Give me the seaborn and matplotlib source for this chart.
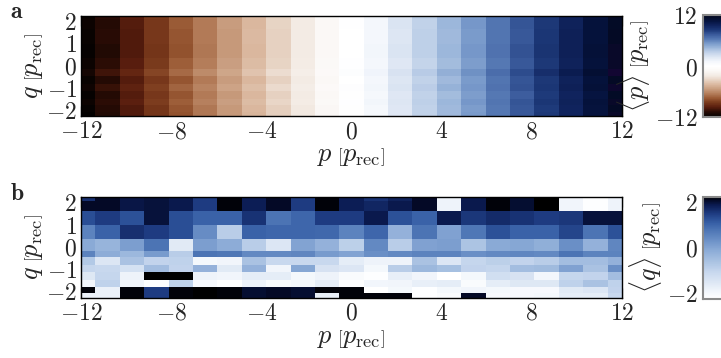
import numpy as np
import matplotlib
matplotlib.use("Agg")
import matplotlib.pyplot as plt
from matplotlib.colors import LinearSegmentedColormap, Normalize
from matplotlib.ticker import FuncFormatter
import seaborn as sns

# ---- grid: cell edges in momentum p and quadrature q (units of p_rec) ----
p_edges = [-12.44, -11.36, -10.28, -9.20, -8.11, -7.03, -5.95, -4.87, -3.79,
           -2.70, -1.62, -0.54, 0.54, 1.62, 2.70, 3.79, 4.87, 5.95, 7.03,
           8.11, 9.20, 10.28, 11.36, 12.44]
q_edges = [-2.27, -2.07, -1.78, -1.48, -1.13, -0.81, -0.46, -0.17, 0.34,
           0.98, 1.62, 2.07, 2.24]

# ---- panel a: mean momentum <p>, rows listed from top (q high) to bottom ----
mean_p_rows = [
    [-11.7, -10.7, -9.6, -8.5, -7.5, -6.4, -5.4, -4.3, -3.2, -2.1, -1.0, 0.1, 1.2, 2.2, 3.3, 4.3, 5.4, 6.5, 7.5, 8.6, 9.7, 10.7, 11.7],
    [-11.6, -10.8, -9.7, -8.6, -7.5, -6.5, -5.4, -4.4, -3.2, -2.2, -1.1, 0.1, 1.1, 2.3, 3.2, 4.4, 5.5, 6.5, 7.6, 8.6, 9.7, 10.8, 11.6],
    [-11.7, -10.7, -9.8, -8.6, -7.6, -6.5, -5.5, -4.3, -3.3, -2.2, -1.1, 0.0, 1.1, 2.2, 3.3, 4.3, 5.4, 6.5, 7.5, 8.7, 9.8, 10.8, 11.7],
    [-11.8, -10.9, -9.8, -8.7, -7.7, -6.6, -5.5, -4.4, -3.3, -2.2, -1.1, 0.0, 1.2, 2.3, 3.3, 4.4, 5.5, 6.6, 7.7, 8.8, 9.8, 10.9, 11.8],
    [-11.6, -10.6, -9.6, -8.5, -7.4, -6.4, -5.3, -4.2, -3.2, -2.1, -1.0, 0.1, 1.1, 2.1, 3.1, 4.2, 5.3, 6.4, 7.5, 8.6, 9.7, 10.8, 11.8],
    [-11.3, -10.2, -9.2, -8.1, -7.0, -6.0, -5.0, -3.9, -2.9, -1.9, -0.9, 0.3, 1.3, 2.4, 3.5, 4.6, 5.7, 6.8, 7.9, 9.0, 10.1, 11.1, 12.0],
    [-11.7, -10.8, -9.7, -8.6, -7.6, -6.5, -5.4, -4.4, -3.3, -2.2, -1.1, 0.0, 1.1, 2.2, 3.2, 4.3, 5.4, 6.5, 7.6, 8.6, 9.7, 10.8, 11.7],
    [-11.5, -10.4, -9.4, -8.3, -7.2, -6.2, -5.1, -4.1, -3.0, -2.0, -0.9, 0.2, 1.2, 2.3, 3.4, 4.5, 5.5, 6.6, 7.7, 8.7, 9.8, 10.9, 11.9],
    [-11.8, -10.8, -9.7, -8.6, -7.6, -6.5, -5.5, -4.4, -3.3, -2.2, -1.1, -0.1, 1.0, 2.1, 3.2, 4.2, 5.3, 6.4, 7.4, 8.5, 9.6, 10.6, 11.6],
    [-11.6, -10.6, -9.5, -8.4, -7.4, -6.3, -5.3, -4.2, -3.1, -2.1, -1.0, 0.1, 1.2, 2.2, 3.3, 4.4, 5.5, 6.5, 7.6, 8.7, 9.7, 10.8, 11.8],
    [-11.8, -10.8, -9.8, -8.7, -7.6, -6.6, -5.5, -4.4, -3.4, -2.3, -1.2, -0.1, 1.0, 2.1, 3.2, 4.3, 5.3, 6.4, 7.5, 8.5, 9.6, 10.7, 11.7],
    [-11.9, -10.9, -9.8, -8.7, -7.7, -6.6, -5.5, -4.5, -3.4, -2.3, -1.2, -0.1, 1.0, 2.1, 3.2, 4.3, 5.4, 6.4, 7.5, 8.6, 9.6, 10.7, 11.8],
]

# ---- panel b: mean quadrature <q>, rows listed from top to bottom ----
mean_q_rows = [
    [1.65, 2.1, 1.95, 2.0, 1.9, 1.5, 2.2, 1.85, 2.1, 1.5, 2.2, 1.85, 1.6, 1.8, 2.1, -1.85, 1.9, 2.2, 2.05, 2.25, -1.9, -2.2, -1.85],
    [2.1, 2.1, 1.95, 2.0, 1.9, 1.5, 2.2, 1.85, 2.1, 1.5, 2.2, 1.85, 1.75, 1.9, 2.1, -1.85, 1.9, 2.2, 2.05, 2.25, -1.9, -2.2, -1.85],
    [1.3, 1.5, 1.25, 2.0, 1.3, 1.05, 1.05, 1.6, 0.8, 1.0, 1.5, 1.5, 1.9, 1.25, 1.05, 1.9, 1.55, 1.7, 1.6, 1.5, 1.55, 2.0, 2.0],
    [0.55, 1.05, 1.65, 1.5, 1.3, 0.4, -0.85, 1.05, 1.0, 1.0, 0.95, 0.55, 1.0, -0.25, 0.8, 0.05, 0.75, 1.25, 1.05, 1.05, 1.4, 0.8, 1.25],
    [-0.1, -0.3, 0.1, 0.8, -1.6, 0.1, -0.15, -0.85, -1.5, 0.0, -0.25, -0.9, 0.45, -0.85, 0.05, 0.1, -0.65, -0.1, -0.05, -0.2, 0.35, -0.25, 0.5],
    [0.55, -0.15, -0.4, 0.15, -0.85, 0.8, 0.75, 0.45, 0.45, 0.5, 0.15, 0.0, 0.35, 0.45, 0.55, 0.55, 0.35, 0.45, 0.5, 0.45, 0.8, 0.55, 0.55],
    [-0.75, -1.5, -0.6, -1.0, -0.95, -2.0, -1.9, -0.6, -1.1, -1.1, -1.1, -1.7, -1.85, -1.85, -0.6, -1.5, -1.05, -0.9, -1.0, -0.85, -0.5, -0.5, -0.25],
    [-1.05, -1.1, -1.35, -0.5, -1.0, -0.25, -1.6, -0.25, -1.9, -0.05, -1.4, -1.5, -2.0, -0.85, -0.4, -0.55, -1.0, -1.05, -0.5, -0.45, 0.05, -0.6, 0.35],
    [-1.55, -1.05, -1.85, 2.25, 2.25, -1.85, -1.9, -1.7, -1.7, -2.0, -1.85, -2.1, -2.2, -1.75, -1.9, -2.25, -2.0, -1.3, -1.4, -1.95, -1.05, -1.0, -0.5],
    [-1.95, -0.95, -1.9, -2.2, -0.95, -2.05, -2.25, -1.85, -2.1, -2.0, -1.7, -2.2, -1.95, -1.9, -1.75, -1.7, -2.1, -1.7, -1.55, -1.55, -0.95, -0.6, -0.95],
    [2.2, -1.8, 2.2, 1.5, 2.2, 2.25, 2.2, 2.05, 2.1, 2.05, 2.2, 2.2, -2.25, -2.0, -2.2, -2.0, -1.9, -2.0, -2.05, -2.05, -1.6, -1.5, -1.0],
    [-1.8, -1.8, 2.2, 1.5, 2.2, 2.25, 2.2, 2.05, 2.1, 2.05, -1.75, 2.2, 2.2, 2.2, -2.2, -2.1, 2.1, -2.05, -2.05, -2.0, -1.7, -1.7, -1.1],
]

x_ticks = [-12, -8, -4, 0, 4, 8, 12]
y_ticks = [-2, -1, 0, 1, 2]
cbar_a_ticks = [-12, 0, 12]
cbar_b_ticks = [-2, 0, 2]

# ---- colour maps ----
p_lim = 12.0
p_stops = [(-12, "#000000"), (-10.7, "#2a0c05"), (-9.6, "#5a1e0e"), (-8.5, "#7a3a1c"),
           (-7.5, "#9a5a35"), (-6.4, "#b57f5c"), (-5.4, "#c89c7e"), (-4.3, "#dbb9a0"),
           (-3.2, "#e8d5c6"), (-2.2, "#f3ebe4"), (-1.1, "#fbf8f6"), (0.0, "#ffffff"),
           (1.1, "#f4f7fc"), (2.2, "#dde6f3"), (3.2, "#c3d3ea"), (4.3, "#9fb9dc"),
           (5.4, "#7a9bcb"), (6.4, "#5679b4"), (7.5, "#3a5a9c"), (8.5, "#1e3a7a"),
           (9.6, "#10245e"), (10.6, "#061542"), (11.7, "#030a24"), (12, "#120632")]
cmap_p = LinearSegmentedColormap.from_list(
    "brown_blue", [((v + p_lim) / (2 * p_lim), c) for v, c in p_stops])

q_lim = 2.25
q_stops = [(-2.25, "#ffffff"), (-1.9, "#f0f5fb"), (-1.6, "#e0e9f5"), (-1.1, "#c8d8ee"),
           (-0.6, "#a9c2e2"), (-0.1, "#8aaad6"), (0.35, "#6a8fc6"), (0.8, "#4c74b4"),
           (1.05, "#3a62a8"), (1.25, "#2d5299"), (1.5, "#1e3c82"), (1.9, "#0a1a50"),
           (2.1, "#040a28"), (2.25, "#000000")]
cmap_q = LinearSegmentedColormap.from_list(
    "white_navy", [((v + q_lim) / (2 * q_lim), c) for v, c in q_stops])

# ---- style ----
sns.set_theme(style="ticks")
plt.rcParams.update({
    "font.family": ["DejaVu Serif"],
    "mathtext.fontset": "cm",
    "font.size": 17,
    "axes.linewidth": 1.0,
    "axes.edgecolor": "black",
})

fmt = FuncFormatter(lambda v, _: f"${v:g}$")
GREY = "#8a8a8a"
TICK_FS = 17
LABEL_FS = 19

fig = plt.figure(figsize=(7.21, 3.58), dpi=100)
W, H = 721, 358


def box(x0, y0, x1, y1):
    return [x0 / W, 1 - y1 / H, (x1 - x0) / W, (y1 - y0) / H]


panels = [
    ("a", mean_p_rows, cmap_p, Normalize(-p_lim, p_lim), cbar_a_ticks,
     r"$\langle p\rangle\;\left[p_\mathrm{rec}\right]$", 15.7, 116.3),
    ("b", mean_q_rows, cmap_q, Normalize(-q_lim, q_lim), cbar_b_ticks,
     r"$\langle q\rangle\;\left[p_\mathrm{rec}\right]$", 197.3, 297.5),
]

for tag, rows, cmap, norm, cticks, clabel, top, bottom in panels:
    ax = fig.add_axes(box(81, top, 622, bottom))
    values = np.array(rows[::-1])
    mesh = ax.pcolormesh(p_edges, q_edges, values, cmap=cmap, norm=norm,
                         shading="flat", rasterized=True)
    ax.set_xlim(-12, 12)
    ax.set_ylim(-2.27, 2.23)
    ax.set_xticks(x_ticks)
    ax.set_yticks(y_ticks)
    ax.xaxis.set_major_formatter(fmt)
    ax.yaxis.set_major_formatter(fmt)
    ax.tick_params(direction="in", length=7, width=1.0, color=GREY,
                   top=True, right=True, pad=3, labelsize=TICK_FS)
    ax.set_xlabel(r"$p\;\left[p_\mathrm{rec}\right]$", fontsize=LABEL_FS, labelpad=0)
    ax.set_ylabel(r"$q\;\left[p_\mathrm{rec}\right]$", fontsize=LABEL_FS, labelpad=1)
    for s in ax.spines.values():
        s.set_color("black")
        s.set_linewidth(1.0)
    fig.text(10 / W, 1 - (top - 4) / H, r"$\mathbf{" + tag + "}$",
             fontsize=17, ha="left", va="center")

    cax = fig.add_axes(box(703, top - 0.5, 745, bottom + 1))
    cb = fig.colorbar(mesh, cax=cax, ticks=cticks)
    cax.yaxis.set_ticks_position("left")
    cax.yaxis.set_label_position("left")
    cax.yaxis.set_major_formatter(fmt)
    cax.tick_params(direction="in", length=30, width=1.2, color=GREY,
                    pad=4, labelsize=TICK_FS)
    cb.outline.set_edgecolor(GREY)
    cb.outline.set_linewidth(1.5)
    cb.set_label(clabel, fontsize=LABEL_FS, labelpad=2)

fig.savefig("out.png", dpi=100)
